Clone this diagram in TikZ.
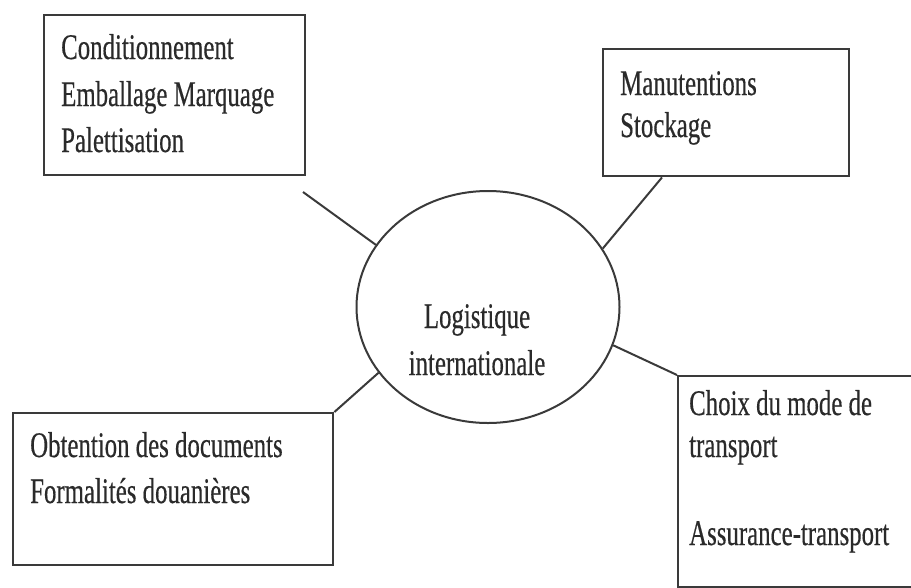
\documentclass[tikz,border=0pt]{standalone}
\usepackage{fontspec}
\setmainfont{Liberation Serif}[FakeStretch=0.69, FakeBold=0.4]
\usetikzlibrary{shapes.geometric,calc}

\definecolor{ink}{HTML}{2A2A2A}
\definecolor{rule}{HTML}{3A3A3A}

\tikzset{
  box/.style={draw=rule, line width=2.4pt, rectangle, anchor=north west, inner sep=0pt},
  hubshape/.style={draw=rule, line width=2pt, ellipse, inner sep=0pt},
  link/.style={draw=rule, line width=2pt},
  label/.style={text=ink, anchor=base west, inner sep=0pt,
    font=\fontsize{36pt}{43pt}\selectfont},
  hublabel/.style={text=ink, anchor=base, inner sep=0pt,
    font=\fontsize{36pt}{43pt}\selectfont},
}

\begin{document}
\begin{tikzpicture}[x=1pt, y=-1pt]
  \useasboundingbox (0,0) rectangle (911,587);
  \clip (0,0) rectangle (911,587);

  % central ellipse
  \node[hubshape, minimum width=263pt, minimum height=232pt] (hub) at (488,307) {};
  \node[hublabel] (hubA) at (477,328) {Logistique};
  \node[hublabel] (hubB) at (477,375) {internationale};

  % top-left box
  \node[box, minimum width=261pt, minimum height=160pt] (tl) at (43,14) {};
  \node[label] (tl1) at (61,59) {Conditionnement};
  \node[label] (tl2) at (61,106) {Emballage Marquage};
  \node[label] (tl3) at (61,152) {Palettisation};

  % top-right box
  \node[box, minimum width=246pt, minimum height=127pt] (tr) at (602,48) {};
  \node[label] (tr1) at (620,95) {Manutentions};
  \node[label] (tr2) at (620,137) {Stockage};

  % bottom-left box
  \node[box, minimum width=320pt, minimum height=152pt] (bl) at (12,412) {};
  \node[label] (bl1) at (30,457) {Obtention des documents};
  \node[label] (bl2) at (30,503) {Formalités douanières};

  % bottom-right box (runs past the page edge)
  \node[box, minimum width=300pt, minimum height=211pt] (br) at (677,375) {};
  \node[label] (br1) at (689,415) {Choix du mode de};
  \node[label] (br2) at (689,457) {transport};
  \node[label] (br3) at (689,545) {Assurance-transport};

  % connectors
  \coordinate (tlfoot) at (303,192);
  \draw[link] (tlfoot) -- (hub.151);
  \draw[link] ($(tr.south west)+(60,0)$) -- (hub.27);
  \draw[link] (hub.211) -- (bl.north east);
  \draw[link] (hub.-17) -- (br.north west);
\end{tikzpicture}
\end{document}
